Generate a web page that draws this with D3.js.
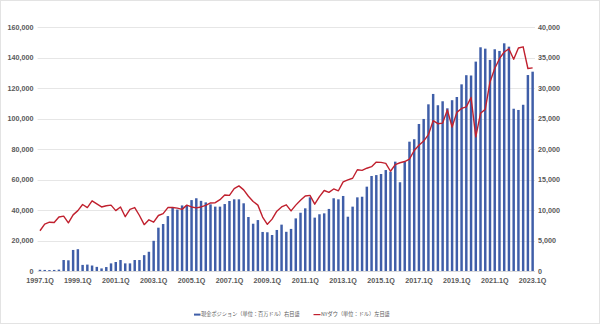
<!DOCTYPE html>
<html><head><meta charset="utf-8">
<script src="https://cdn.jsdelivr.net/npm/d3@7"></script>
<style>
html,body{margin:0;padding:0;background:#fff;}
svg{display:block;}
</style></head>
<body>
<svg id="chart" width="600" height="324"></svg>
<script>
// quarters 1997.1Q .. 2023.1Q
const startYear = 1997, endYear = 2023;
const quarters = [];
for (let y = startYear; y <= endYear; y++) for (let q = 1; q <= 4; q++) { if (y === endYear && q > 1) break; quarters.push(y + "." + q + "Q"); }

// 現金ポジション（百万ドル）
const cash = [
  800, 700, 600, 700, 900,
  7200, 7000, 13800, 14300,
  4000, 4200, 3600, 2700,
  1700, 2600, 5000, 5900,
  7200, 5000, 5000, 7200,
  7200, 10400, 12600, 19800,
  28400, 30800, 36000, 41400,
  40300, 43000, 43000, 46500,
  47700, 46000, 45000, 43700,
  42200, 42200, 43900, 45900,
  47000, 47000, 44400, 35400,
  31000, 33400, 25600, 25400,
  23600, 26900, 30400, 25700,
  27600, 34500, 38200, 41100,
  48300, 35000, 37200, 37800,
  40700, 47700, 47000, 49200,
  35600, 42200, 48300, 48700,
  55300, 62300, 62900, 63600,
  66200, 65100, 71700, 58200,
  71700, 84800, 86400, 96400,
  99700, 109300, 116100, 108700,
  111300, 106700, 112000, 114100,
  122400, 128400, 128200, 137300,
  146700, 145800, 138400, 145400,
  144300, 149300, 147100, 106400,
  105600, 109000, 128500, 130700
];

// NYダウ（ドル）
const dow = [
  6600, 7700, 8000, 7950, 8850,
  9000, 7900, 9200, 9900,
  10900, 10400, 11500, 11000,
  10500, 10700, 10800, 9900,
  10500, 8900, 10100, 10400,
  9100, 7600, 8400, 8000,
  9100, 9400, 10400, 10400,
  10300, 10100, 10800, 10500,
  10350, 10500, 10750, 11150,
  11200, 11700, 12450, 12400,
  13500, 13950, 13300, 12250,
  11400, 10800, 8850, 7650,
  8500, 9800, 10500, 10850,
  9850, 10800, 11600, 12300,
  12400, 10950, 12200, 13200,
  12900, 13450, 13150, 14600,
  14950, 15200, 16600, 16500,
  16850, 17100, 17850, 17800,
  17650, 16350, 17450, 17750,
  17950, 18350, 19750, 20600,
  21300, 22350, 24650, 24150,
  24250, 26400, 23600, 26000,
  26650, 26900, 28450, 22000,
  25850, 26500, 31000, 33200,
  34800, 35900, 36400, 34700,
  36550, 36750, 33200, 33300
];

const leftTicks = [0, 20000, 40000, 60000, 80000, 100000, 120000, 140000, 160000];
const rightTicks = [0, 5000, 10000, 15000, 20000, 25000, 30000, 35000, 40000];
const xTickLabels = ["1997.1Q","1999.1Q","2001.1Q","2003.1Q","2005.1Q","2007.1Q","2009.1Q","2011.1Q","2013.1Q","2015.1Q","2017.1Q","2019.1Q","2021.1Q","2023.1Q"];
const legendLabels = ["現金ポジション（単位：百万ドル）右目盛", "NYダウ（単位：ドル）左目盛"];

const svg = d3.select("#chart");
const W = 600, H = 324;
const m = {left: 37.6, right: 65, top: 27, bottom: 53};
const plotR = W - m.right;
const yBase = H - m.bottom;
const textColor = "#595959";

svg.append("rect").attr("x",0.5).attr("y",0.5).attr("width",W-1).attr("height",H-1)
  .attr("fill","#fff").attr("stroke","#e3e3e3");

const x = d3.scaleBand().domain(quarters).range([m.left, plotR]).paddingInner(0.48).paddingOuter(0.24);
const yL = d3.scaleLinear().domain([0,160000]).range([yBase, m.top]);
const yR = d3.scaleLinear().domain([0,40000]).range([yBase, m.top]);

const fmt = d3.format(",");
const tickFont = "'Liberation Sans', Arial, sans-serif";
function styleTicks(g){
  g.select(".domain").remove();
  g.selectAll("text").attr("fill",textColor).style("fill",textColor)
    .style("font-family",tickFont).style("font-size","7.2px").style("font-weight","bold");
}

// gridlines
svg.append("g").selectAll("line").data(leftTicks.filter(d=>d>0)).join("line")
  .attr("x1", m.left).attr("x2", plotR)
  .attr("y1", d=>Math.round(yL(d))+0.5).attr("y2", d=>Math.round(yL(d))+0.5)
  .attr("stroke","#e6e6e6").attr("stroke-width",1);

// left axis
svg.append("g").attr("transform",`translate(${m.left-4},0)`)
  .call(d3.axisLeft(yL).tickValues(leftTicks).tickFormat(fmt).tickSize(0).tickPadding(0))
  .call(styleTicks);

// right axis
svg.append("g").attr("transform",`translate(${plotR+3},0)`)
  .call(d3.axisRight(yR).tickValues(rightTicks).tickFormat(fmt).tickSize(0).tickPadding(0))
  .call(styleTicks);

// bars
svg.append("g").selectAll("rect").data(cash).join("rect")
  .attr("x",(d,i)=>x(quarters[i]))
  .attr("width", x.bandwidth())
  .attr("y", d=>yL(d))
  .attr("height", d=>yBase - yL(d))
  .attr("fill","#3f5ea8");

// baseline
svg.append("line").attr("x1",m.left).attr("x2",plotR).attr("y1",yBase+0.5).attr("y2",yBase+0.5)
  .attr("stroke","#d9d9d9");

// x axis
svg.append("g").attr("transform",`translate(0,${yBase+6.5})`)
  .call(d3.axisBottom(x).tickValues(xTickLabels).tickSize(0).tickPadding(0))
  .call(styleTicks);

// line
const line = d3.line().x((d,i)=>x(quarters[i]) + x.bandwidth()/2).y(d=>yR(d));
svg.append("path").datum(dow).attr("d",line).attr("fill","none")
  .attr("stroke","#c0202e").attr("stroke-width",1.4).attr("stroke-linejoin","round");

// legend
const lg = svg.append("g").style("font-family","'Noto Sans CJK JP', sans-serif").style("font-size","5.2px");
lg.append("rect").attr("x",194).attr("y",313.6).attr("width",6.5).attr("height",2).attr("fill","#3f5ea8");
lg.append("text").attr("x",201).attr("y",316.3).attr("fill",textColor).text(legendLabels[0]);
lg.append("line").attr("x1",313.5).attr("x2",320.5).attr("y1",314.6).attr("y2",314.6).attr("stroke","#c0202e").attr("stroke-width",1.2);
lg.append("text").attr("x",321).attr("y",316.3).attr("fill",textColor).text(legendLabels[1]);
</script>
</body></html>
